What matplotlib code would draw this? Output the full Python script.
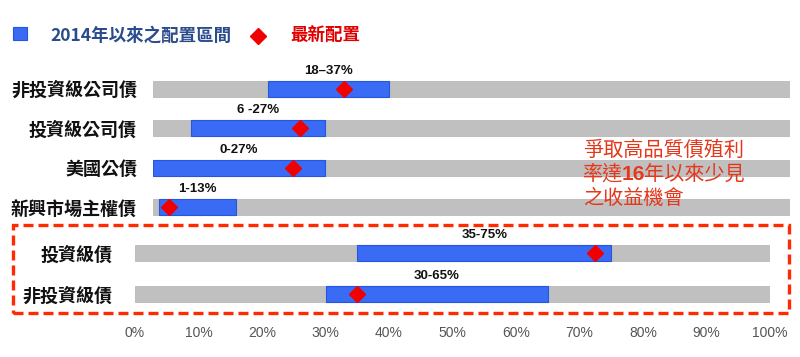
import matplotlib
matplotlib.use("Agg")
import matplotlib.pyplot as plt
from matplotlib.patches import Rectangle
from matplotlib.lines import Line2D

plt.rcParams['font.family'] = ['Noto Sans CJK TC', 'DejaVu Sans']

# ---------------- data ----------------
top_categories = ["非投資級公司債", "投資級公司債", "美國公債", "新興市場主權債"]
top_low = [18, 6, 0, 1]
top_high = [37, 27, 27, 13]
top_latest = [30, 23, 22, 2.5]
top_range_labels = ["18–37%", "6 -27%", "0-27%", "1-13%"]

bot_categories = ["投資級債", "非投資級債"]
bot_low = [35, 30]
bot_high = [75, 65]
bot_latest = [72.5, 35]
bot_range_labels = ["35-75%", "30-65%"]

x_ticks = [0, 10, 20, 30, 40, 50, 60, 70, 80, 90, 100]
x_tick_labels = [f"{t}%" for t in x_ticks]

legend_range = "2014年以來之配置區間"
legend_latest = "最新配置"
note_lines = ["爭取高品質債殖利", ("率達", "16", "年以來少見"), "之收益機會"]

# ---------------- style ----------------
W, H = 800, 357
BLUE = "#3A6BF5"
BLUE_EDGE = "#2456E0"
GRAY = "#C0C0C0"
RED = "#F00000"
NOTE_RED = "#E5371A"
BOX_RED = "#FF2A00"

fig = plt.figure(figsize=(W / 100, H / 100), dpi=100)


def fx(x):
    return x / W


def fy(y):
    return 1 - y / H


def make_axes(left, right, top, bottom):
    return fig.add_axes([fx(left), fy(bottom), fx(right) - fx(left), (bottom - top) / H])


def draw_group(ax, cats, low, high, latest, labels, bar_h, label_pad):
    n = len(cats)
    ys = list(range(n))
    ax.barh(ys, [100] * n, left=0, height=bar_h, color=GRAY, edgecolor="#B8B8B8",
            linewidth=0.6, zorder=1)
    widths = [h - l for l, h in zip(low, high)]
    ax.barh(ys, widths, left=low, height=bar_h, color=BLUE, edgecolor=BLUE_EDGE,
            linewidth=0.8, zorder=2)
    ax.plot(latest, ys, linestyle="none", marker="D", markersize=8.5, color=RED,
            markeredgecolor=RED, zorder=3)
    for y, l, h, lab in zip(ys, low, high, labels):
        ax.annotate(lab, xy=((l + h) / 2, y - bar_h / 2), xytext=(0, 3),
                    textcoords="offset points", ha="center", va="bottom",
                    fontsize=9.5, fontweight="bold", family=["Liberation Sans", "DejaVu Sans"],
                    color="#111111", zorder=4)
    ax.set_xlim(0, 100)
    ax.set_ylim(n - 0.5, -0.5)
    ax.set_yticks(ys)
    ax.set_yticklabels(cats, fontsize=13, fontweight="bold", color="#111111")
    ax.tick_params(axis="y", length=0, pad=label_pad)
    for s in ax.spines.values():
        s.set_visible(False)
    ax.set_facecolor("none")


# top group
ax_top = make_axes(153, 790, 69, 227)
draw_group(ax_top, top_categories, top_low, top_high, top_latest, top_range_labels,
           16 / 39.5, 11.5)
ax_top.set_xticks([])

# bottom group
ax_bot = make_axes(135, 770, 232.5, 314.5)
draw_group(ax_bot, bot_categories, bot_low, bot_high, bot_latest, bot_range_labels,
           16 / 41, 16)
ax_bot.set_xticks(x_ticks)
ax_bot.set_xticklabels(x_tick_labels, fontsize=10, color="#555555",
                       family=["Liberation Sans", "DejaVu Sans"])
ax_bot.tick_params(axis="x", length=0, pad=8)

# dashed box around bottom group
box = Rectangle((fx(13), fy(313)), fx(789) - fx(13), (313 - 225) / H,
                transform=fig.transFigure, fill=False, edgecolor=BOX_RED,
                linewidth=2.4, linestyle=(0, (3, 1.5)))
fig.add_artist(box)

# legend
fig.add_artist(Rectangle((fx(13), fy(40)), fx(14), 13 / H, transform=fig.transFigure,
                         facecolor=BLUE, edgecolor=BLUE_EDGE, linewidth=0.8))
fig.text(fx(50), fy(36), legend_range, fontsize=12.6, color="#2B4C8C",
         fontweight="bold", va="center", ha="left")
fig.add_artist(Line2D([fx(258)], [fy(36)], marker="D", markersize=8.5, color=RED,
                      linestyle="none", transform=fig.transFigure))
fig.text(fx(290), fy(36), legend_latest, fontsize=12.6, color="#E00000",
         fontweight="bold", va="center", ha="left")

# annotation note
renderer = fig.canvas.get_renderer()
line_ys = [150, 174, 198]
x0 = 583
NOTE_FS = 14.5
for line, yy in zip(note_lines, line_ys):
    if isinstance(line, str):
        fig.text(fx(x0), fy(yy), line, fontsize=NOTE_FS, color=NOTE_RED,
                 va="center", ha="left")
    else:
        cur = fx(x0)
        for i, part in enumerate(line):
            t = fig.text(cur, fy(yy), part, fontsize=NOTE_FS if i != 1 else 15,
                         color=NOTE_RED, va="center", ha="left",
                         fontweight="bold" if i == 1 else "normal",
                         family=["Liberation Sans", "DejaVu Sans"] if i == 1 else None)
            bb = t.get_window_extent(renderer=renderer)
            cur = (bb.x1 - 1.5) / W

fig.savefig("out.png", dpi=100)
